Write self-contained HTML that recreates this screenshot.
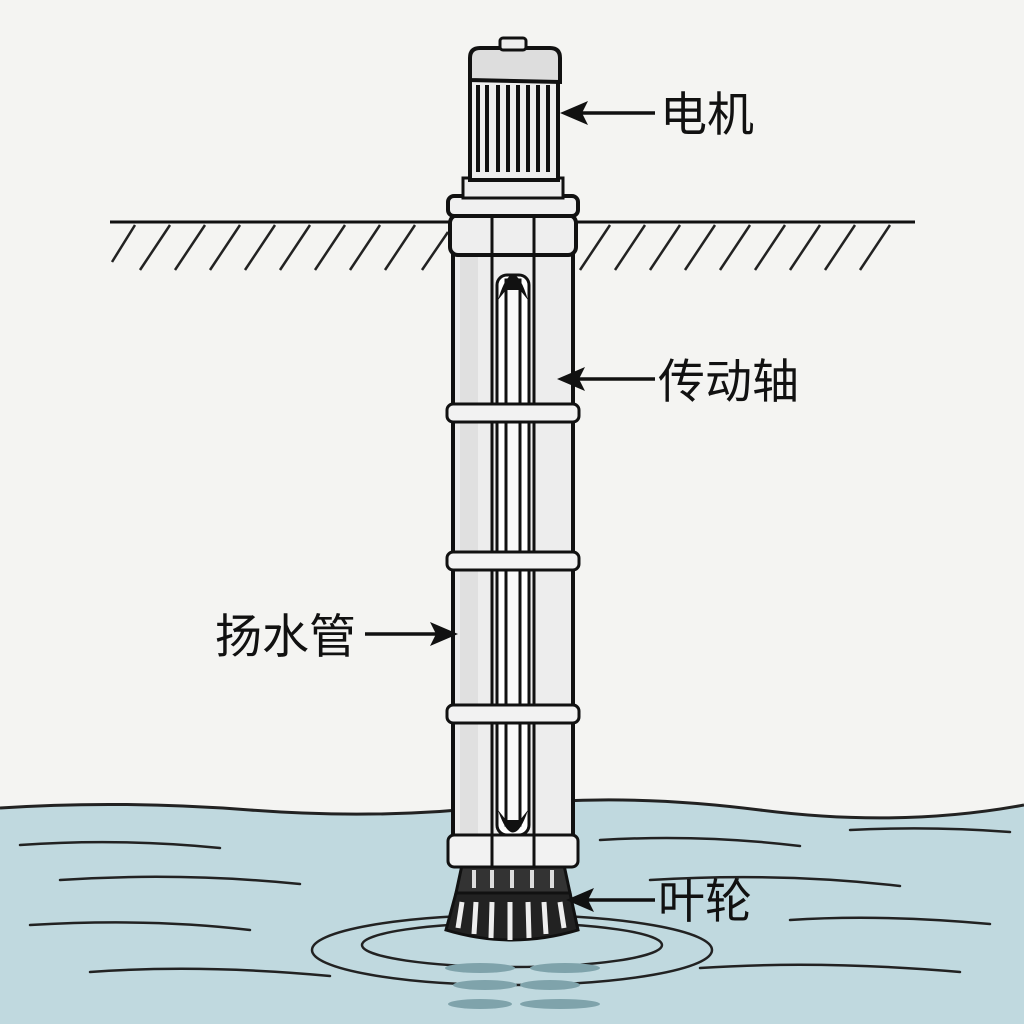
<!DOCTYPE html>
<html><head><meta charset="utf-8"><style>
body{margin:0;background:#f4f4f2}
svg{display:block}
text{font-family:"Liberation Sans","Noto Sans CJK SC",sans-serif;font-size:47px;fill:#111}
</style></head><body>
<svg width="1024" height="1024" viewBox="0 0 1024 1024">
<rect width="1024" height="1024" fill="#f4f4f2"/>
<path d="M0 808 Q120 800 250 810 T500 806 T760 810 T1024 805 V1024 H0 Z" fill="#c0d9df"/>
<path d="M0 808 Q120 800 250 810 T500 806 T760 810 T1024 805" fill="none" stroke="#222" stroke-width="3"/>
<g stroke="#222" stroke-width="2.5" fill="none" stroke-linecap="round">
<path d="M20 845 Q120 838 220 848"/><path d="M600 840 Q700 834 800 846"/><path d="M850 830 Q930 826 1010 832"/>
<path d="M60 880 Q180 872 300 884"/><path d="M650 880 Q780 872 900 886"/>
<path d="M30 925 Q150 918 250 930"/><path d="M790 920 Q880 914 990 924"/>
<path d="M90 972 Q200 964 330 976"/><path d="M700 968 Q820 960 960 972"/>
<ellipse cx="512" cy="945" rx="150" ry="22"/><ellipse cx="512" cy="950" rx="200" ry="35"/>
</g>
<g fill="#7fa3ab"><ellipse cx="480" cy="968" rx="35" ry="5"/><ellipse cx="565" cy="968" rx="35" ry="5"/><ellipse cx="485" cy="985" rx="32" ry="5"/><ellipse cx="550" cy="985" rx="30" ry="5"/><ellipse cx="480" cy="1004" rx="32" ry="5"/><ellipse cx="560" cy="1004" rx="40" ry="5"/></g>
<line x1="110" y1="222" x2="915" y2="222" stroke="#111" stroke-width="3"/>
<g stroke="#222" stroke-width="2.5">
<path d="M135 225 L112 262 M170 225 L140 270 M205 225 L175 270 M240 225 L210 270 M275 225 L245 270 M310 225 L280 270 M345 225 L315 270 M380 225 L350 270 M415 225 L385 270 M448 232 L422 270 M610 225 L580 270 M645 225 L615 270 M680 225 L650 270 M715 225 L685 270 M750 225 L720 270 M785 225 L755 270 M820 225 L790 270 M855 225 L825 270 M890 225 L860 270"/>
</g>
<path d="M462 865 H564 L570 893 H456 Z" fill="#333" stroke="#111" stroke-width="3"/>
<path d="M456 893 H570 L578 930 Q512 950 446 930 Z" fill="#222" stroke="#111" stroke-width="3"/>
<g stroke="#eee" stroke-width="5"><path d="M462 902 L458 928 M476 902 L474 934 M492 902 L491 938 M510 902 L510 940 M528 902 L529 938 M544 902 L546 934 M560 902 L564 928"/></g>
<g stroke="#ddd" stroke-width="4"><path d="M474 870 V888 M492 870 V888 M512 870 V888 M532 870 V888 M552 870 V888"/></g>
<rect x="453" y="225" width="120" height="620" fill="#ededed" stroke="#111" stroke-width="4"/>
<rect x="460" y="225" width="18" height="620" fill="#e0e0e0"/>
<line x1="492" y1="225" x2="492" y2="845" stroke="#111" stroke-width="3"/>
<line x1="534" y1="225" x2="534" y2="845" stroke="#111" stroke-width="3"/>
<rect x="497" y="275" width="32" height="560" rx="10" fill="#fff" stroke="#111" stroke-width="3"/>
<rect x="506" y="280" width="14" height="545" fill="#fafafa" stroke="#111" stroke-width="3"/>
<path d="M498 300 Q513 250 528 300 L520 290 L506 290 Z" fill="#111"/>
<path d="M498 810 Q513 855 528 810 L520 820 L506 820 Z" fill="#111"/>
<g fill="#f2f2f2" stroke="#111" stroke-width="3">
<rect x="447" y="404" width="132" height="18" rx="6"/>
<rect x="447" y="552" width="132" height="18" rx="6"/>
<rect x="447" y="705" width="132" height="18" rx="6"/>
<rect x="448" y="835" width="130" height="32" rx="6"/>
</g>
<path d="M492 835 V867 M534 835 V867" stroke="#111" stroke-width="3"/>
<rect x="450" y="215" width="126" height="40" rx="8" fill="#eee" stroke="#111" stroke-width="4"/>
<rect x="448" y="196" width="130" height="20" rx="6" fill="#f0f0f0" stroke="#111" stroke-width="4"/>
<path d="M492 215 V255 M534 215 V255" stroke="#111" stroke-width="3"/>
<rect x="463" y="178" width="100" height="20" fill="#eee" stroke="#111" stroke-width="3"/>
<rect x="470" y="80" width="88" height="100" fill="#eee" stroke="#111" stroke-width="4"/>
<g stroke="#111" stroke-width="4"><path d="M478 85 V172 M487 85 V172 M498 85 V172 M508 85 V172 M518 85 V172 M528 85 V172 M538 85 V172 M548 85 V172"/></g>
<path d="M470 80 V58 Q470 48 480 48 H550 Q560 48 560 58 V82 Z" fill="#ddd" stroke="#111" stroke-width="4"/>
<rect x="500" y="38" width="26" height="12" rx="3" fill="#eee" stroke="#111" stroke-width="3"/>
<g stroke="#111" stroke-width="3.5">
<line x1="655" y1="113" x2="580" y2="113"/>
<line x1="655" y1="379" x2="578" y2="379"/>
<line x1="365" y1="634" x2="440" y2="634"/>
<line x1="655" y1="900" x2="585" y2="900"/>
</g>
<g fill="#111">
<path d="M560 113 L588 101 L582 113 L588 125 Z"/>
<path d="M557 379 L585 367 L579 379 L585 391 Z"/>
<path d="M458 634 L430 622 L436 634 L430 646 Z"/>
<path d="M566 900 L594 888 L588 900 L594 912 Z"/>
</g>
<text x="660" y="131">电机</text>
<text x="658" y="398">传动轴</text>
<text x="215" y="653">扬水管</text>
<text x="658" y="918">叶轮</text>
</svg>
</body></html>
